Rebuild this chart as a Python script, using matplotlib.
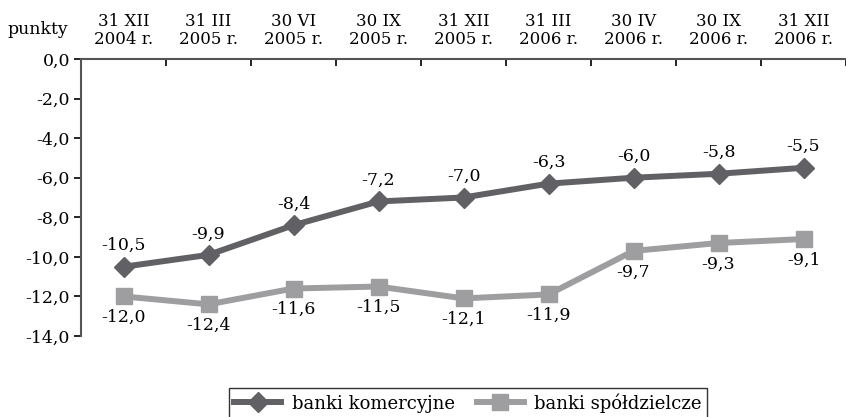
import numpy as np
from matplotlib import pyplot as plt

# dane
dates = ["31 XII\n2004 r.", "31 III\n2005 r.", "30 VI\n2005 r.", "30 IX\n2005 r.",
         "31 XII\n2005 r.", "31 III\n2006 r.", "30 IV\n2006 r.", "30 IX\n2006 r.",
         "31 XII\n2006 r."]
komercyjne = [-10.5, -9.9, -8.4, -7.2, -7.0, -6.3, -6.0, -5.8, -5.5]
spoldzielcze = [-12.0, -12.4, -11.6, -11.5, -12.1, -11.9, -9.7, -9.3, -9.1]
yticks = [0, -2, -4, -6, -8, -10, -12, -14]

plt.rcParams['font.family'] = ['DejaVu Serif']
plt.rcParams['font.size'] = 12

dark = "#616165"
light = "#9e9ea1"


def fmt(v):
    return "{:.1f}".format(v).replace(".", ",")


fig = plt.figure(figsize=(8.46, 4.17), dpi=100)
ax = fig.add_axes([81 / 846, 1 - 336 / 417, 1 - 81 / 846, 277 / 417])

x = np.arange(len(dates))
ax.plot(x, komercyjne, color=dark, lw=4.3, marker="D", ms=10.5,
        label="banki komercyjne")
ax.plot(x, spoldzielcze, color=light, lw=4.3, marker="s", ms=11,
        label="banki spółdzielcze")

for xi, v in zip(x, komercyjne):
    ax.annotate(fmt(v), (xi, v), xytext=(0, 9), textcoords="offset points",
                ha="center", va="bottom", fontsize=12.5)
for xi, v in zip(x, spoldzielcze):
    ax.annotate(fmt(v), (xi, v), xytext=(0, -9), textcoords="offset points",
                ha="center", va="top", fontsize=12.5)

ax.set_xlim(-0.5, len(dates) - 0.5)
ax.set_ylim(-14, 0)
ax.set_yticks(yticks)
ax.set_yticklabels([fmt(v) for v in yticks], fontsize=12.5)
ax.tick_params(axis="y", direction="out", length=5, width=1.2, pad=3)

ax.xaxis.tick_top()
ax.set_xticks(x)
ax.set_xticklabels(dates, fontsize=12, linespacing=1.1)
ax.set_xticks(np.arange(len(dates)) + 0.5, minor=True)
ax.tick_params(axis="x", which="major", length=0, pad=8)
ax.tick_params(axis="x", which="minor", direction="in", length=5, width=1.2)

for s in ["right", "bottom"]:
    ax.spines[s].set_visible(False)
for s in ["top", "left"]:
    ax.spines[s].set_color("#555555")
    ax.spines[s].set_linewidth(1.5)

fig.text(8 / 846, 1 - 30 / 417, "punkty", fontsize=12.5, va="center", ha="left")

leg = fig.legend(loc="center", bbox_to_anchor=(468 / 846, 1 - 403 / 417),
                 ncol=2, frameon=True, fancybox=False, fontsize=13,
                 handlelength=2.6, columnspacing=1.2, borderpad=0.3,
                 handletextpad=0.6)
leg.get_frame().set_edgecolor("black")
leg.get_frame().set_linewidth(1.0)

fig.savefig("out.png", dpi=100)
